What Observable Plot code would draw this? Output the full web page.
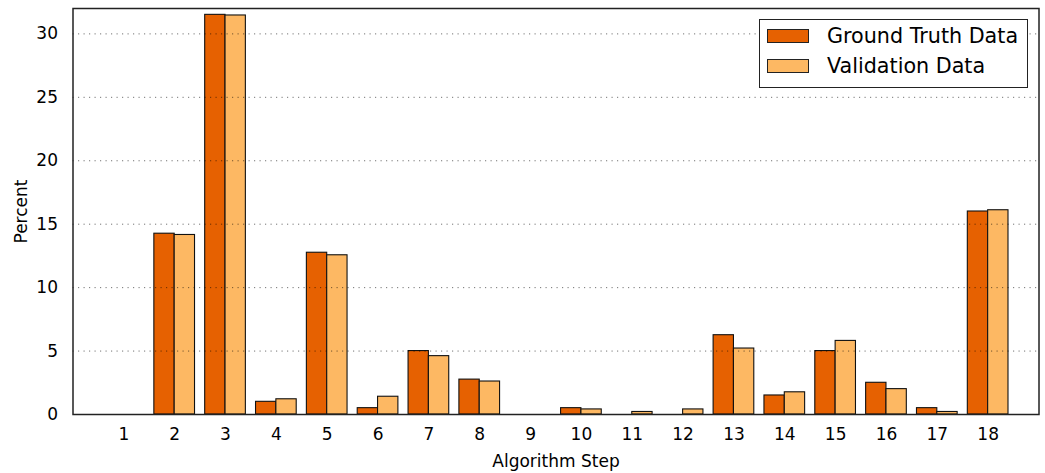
<!DOCTYPE html>
<html><head><meta charset="utf-8">
<script src="https://cdn.jsdelivr.net/npm/d3@7"></script>
<script src="https://cdn.jsdelivr.net/npm/@observablehq/plot@0.6"></script>
<style>
body{margin:0;background:#fff;font-family:"DejaVu Sans",sans-serif}
#wrap{position:relative;width:1045px;height:473px}
#legend{position:absolute;left:759px;top:19px;width:269px;height:69px;border:1.3px solid #222;background:#fff;box-sizing:border-box;font-size:20.7px;color:#000}
.sw{position:absolute;left:7px;width:42px;height:14px;border:1.2px solid #222;box-sizing:border-box}
.lb{position:absolute;left:67px;white-space:nowrap;line-height:20px}
</style></head>
<body><div id="wrap"></div>
<script>
const steps = [1,2,3,4,5,6,7,8,9,10,11,12,13,14,15,16,17,18];
const groundTruth = [0,14.25,31.5,1.0,12.75,0.5,5.0,2.75,0,0.5,0,0,6.25,1.5,5.0,2.5,0.5,16.0];
const validation  = [0,14.15,31.45,1.2,12.55,1.4,4.6,2.6,0,0.4,0.2,0.4,5.2,1.75,5.8,2.0,0.2,16.1];
const seriesNames = ["Ground Truth Data","Validation Data"];
const seriesColors = ["#e66101","#fdb863"];
const yTicks = [0,5,10,15,20,25,30];
const gridTicks = [5,10,15,20,25,30];
const barWidth = 0.4;

const rows = steps.flatMap((s,i)=>[
  {step:s, series:seriesNames[0], k:0, value:groundTruth[i]},
  {step:s, series:seriesNames[1], k:1, value:validation[i]}
]);

const chart = Plot.plot({
  width:1045, height:473,
  marginLeft:72.5, marginRight:6.5, marginTop:8, marginBottom:59,
  style:{fontFamily:"DejaVu Sans, sans-serif", fontSize:"17px", color:"#000", background:"#fff"},
  x:{type:"linear", domain:[0,19]},
  y:{domain:[0,32]},
  color:{domain:seriesNames, range:seriesColors},
  marks:[
    Plot.rectY(rows,{x1:d=>d.step-barWidth+d.k*barWidth, x2:d=>d.step+d.k*barWidth, y:"value", fill:"series", stroke:"#111", strokeWidth:1.1}),
    Plot.ruleY(gridTicks,{stroke:"#000", strokeOpacity:0.55, strokeDasharray:"1.2,4.3", strokeWidth:1}),
    Plot.frame({stroke:"#222", strokeWidth:1.5}),
    Plot.axisX(steps,{tickSize:0, tickPadding:13, fontSize:17, tickFormat:d=>String(d), label:"Algorithm Step", labelAnchor:"center", labelArrow:"none", labelOffset:52}),
    Plot.axisY(yTicks,{tickSize:0, tickPadding:15, fontSize:17, label:"Percent", labelAnchor:"center", labelArrow:"none", labelOffset:58})
  ]
});
const wrap = document.getElementById("wrap");
wrap.appendChild(chart);

const legend = document.createElement("div");
legend.id = "legend";
seriesNames.forEach((n,i)=>{
  const sw = document.createElement("div");
  sw.className="sw"; sw.style.background=seriesColors[i]; sw.style.top=(9+i*30)+"px";
  const lb = document.createElement("div");
  lb.className="lb"; lb.textContent=n; lb.style.top=(6+i*30)+"px";
  legend.appendChild(sw); legend.appendChild(lb);
});
wrap.appendChild(legend);
</script></body></html>
